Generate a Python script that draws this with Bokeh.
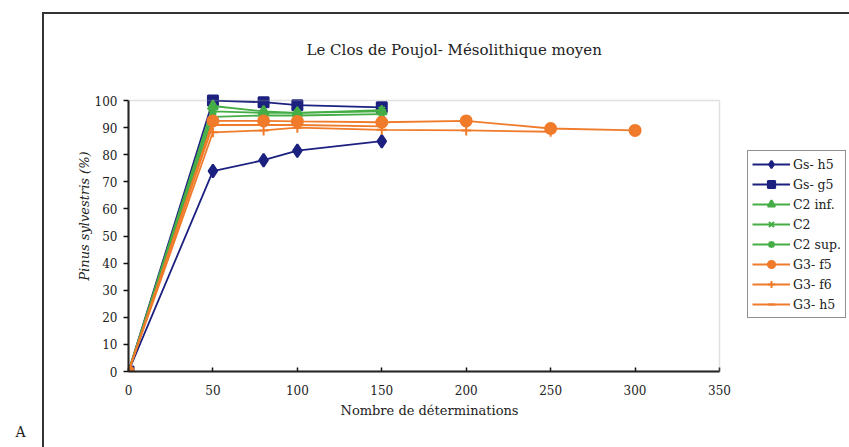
from bokeh.plotting import figure
from bokeh.models import (Range1d, FixedTicker, Legend, LegendItem, Title, BoxAnnotation,
                          InlineStyleSheet, GlobalInlineStyleSheet)
from bokeh.embed import file_html
from bokeh.resources import INLINE

# ---- data ----
x_short = [0, 50, 80, 100, 150]
gs_h5 = [0, 74, 78, 81.5, 85]
gs_g5 = [0, 100, 99.4, 98.3, 97.5]
c2_inf = [0, 98, 96, 95.5, 96]
c2 = [0, 94, 94.5, 94.5, 95]
c2_sup = [0, 96, 95.5, 95.5, 96.5]
x_f5 = [0, 50, 80, 100, 150, 200, 250, 300]
g3_f5 = [0, 92.5, 92.5, 92.3, 92, 92.5, 89.7, 89]
x_f6 = [0, 50, 80, 100, 150, 200, 250]
g3_f6 = [0, 88.3, 89, 90, 89.2, 89, 88.5]
x_h5 = [0, 50, 80, 100, 150]
g3_h5 = [0, 91, 91, 91, 90.5]

x_ticks = [0, 50, 100, 150, 200, 250, 300, 350]
y_ticks = [0, 10, 20, 30, 40, 50, 60, 70, 80, 90, 100]

NAVY = "#1c2180"
GREEN = "#45ad45"
ORANGE = "#ef7b2b"
SERIF = "DejaVu Serif"
TXT = "#222222"

# the frame is extended to the right (legend room) and upward (unclipped top markers);
# the visible axes are limited to the tick span with `bounds`
p = figure(width=849, height=447, output_backend="svg", toolbar_location=None,
           x_range=Range1d(0, 427), y_range=Range1d(0, 114.8),
           min_border_left=128, min_border_right=0, min_border_top=60, min_border_bottom=76)
p.background_fill_color = "white"
p.border_fill_color = "white"
p.outline_line_color = None
p.xgrid.visible = False
p.ygrid.visible = False

# grey plot-area border
p.add_layout(BoxAnnotation(left=x_ticks[0], right=x_ticks[-1], bottom=y_ticks[0], top=y_ticks[-1],
                           fill_alpha=0, line_color="#9a9a9a", line_width=1.5))

series = [
    ("Gs- h5", x_short, gs_h5, NAVY, "diamond", 13),
    ("Gs- g5", x_short, gs_g5, NAVY, "square", 10),
    ("C2 inf.", x_short, c2_inf, GREEN, "triangle", 10),
    ("C2", x_short, c2, GREEN, "x", 8),
    ("C2 sup.", x_short, c2_sup, GREEN, "asterisk", 9),
    ("G3- f5", x_f5, g3_f5, ORANGE, "circle", 11),
    ("G3- f6", x_f6, g3_f6, ORANGE, "cross", 10),
    ("G3- h5", x_h5, g3_h5, ORANGE, "dash", 6),
]

items = []
for name, xs, ys, col, mk, sz in series:
    r1 = p.line(xs, ys, line_color=col, line_width=1.8)
    r2 = p.scatter(xs, ys, marker=mk, size=sz, fill_color=col, line_color=col, line_width=2)
    items.append(LegendItem(label=name, renderers=[r1, r2]))

legend = Legend(items=items, location=(619, 53))
legend.label_text_font = SERIF
legend.label_text_font_size = "12.5px"
legend.label_text_color = TXT
legend.border_line_color = TXT
legend.border_line_width = 1.5
legend.background_fill_alpha = 1
legend.glyph_width = 38
legend.glyph_height = 18
legend.label_height = 18
legend.label_standoff = 3
legend.spacing = 2
legend.padding = 4
legend.margin = 0
p.add_layout(legend, "center")

for ax in (p.xaxis[0], p.yaxis[0]):
    ax.axis_line_color = "#111111"
    ax.axis_line_width = 2
    ax.major_tick_line_color = "#111111"
    ax.major_tick_line_width = 1.5
    ax.minor_tick_line_color = None
    ax.major_label_text_font = SERIF
    ax.major_label_text_font_size = "12px"
    ax.major_label_text_color = TXT
    ax.axis_label_text_font = SERIF
    ax.axis_label_text_font_size = "13px"
    ax.axis_label_text_color = TXT

p.xaxis.bounds = (x_ticks[0], x_ticks[-1])
p.yaxis.bounds = (y_ticks[0], y_ticks[-1])
p.xaxis.ticker = FixedTicker(ticks=x_ticks)
p.yaxis.ticker = FixedTicker(ticks=y_ticks)
p.xaxis.major_tick_in = 4
p.xaxis.major_tick_out = 0
p.yaxis.major_tick_in = 0
p.yaxis.major_tick_out = 5
p.xaxis.major_label_standoff = 13
p.yaxis.major_label_standoff = 6
p.yaxis.axis_label = "Pinus sylvestris (%)"
p.yaxis.axis_label_text_font_style = "italic"
p.yaxis.axis_label_standoff = 0

t = Title(text="Le Clos de Poujol- Mésolithique moyen", align="left",
          text_font=SERIF, text_font_size="15px", text_font_style="normal",
          text_color=TXT, standoff=3, offset=178)
p.add_layout(t, "above")

# x-axis title, centred under the 0-350 plot area
xl = Title(text="Nombre de déterminations", align="left", offset=212, text_font=SERIF,
           text_font_size="13px", text_font_style="normal", text_color=TXT, standoff=6)
p.add_layout(xl, "below")

a = Title(text="A", align="left", offset=-113, text_font=SERIF, text_font_size="14px",
          text_font_style="normal", text_color=TXT, standoff=3)
p.add_layout(a, "below")

# scanned page border (top and left rules); keep the page free of scrollbars
p.stylesheets = [
    InlineStyleSheet(css="""
:host { position: relative; }
:host::after {
  content: ""; position: absolute; left: 42px; top: 12px; right: 0px; bottom: 0px;
  border-top: 2px solid #333; border-left: 2px solid #333; pointer-events: none;
}
"""),
    GlobalInlineStyleSheet(css="html, body { overflow: hidden; }"),
]

open("out.html", "w").write(file_html(p, INLINE))
